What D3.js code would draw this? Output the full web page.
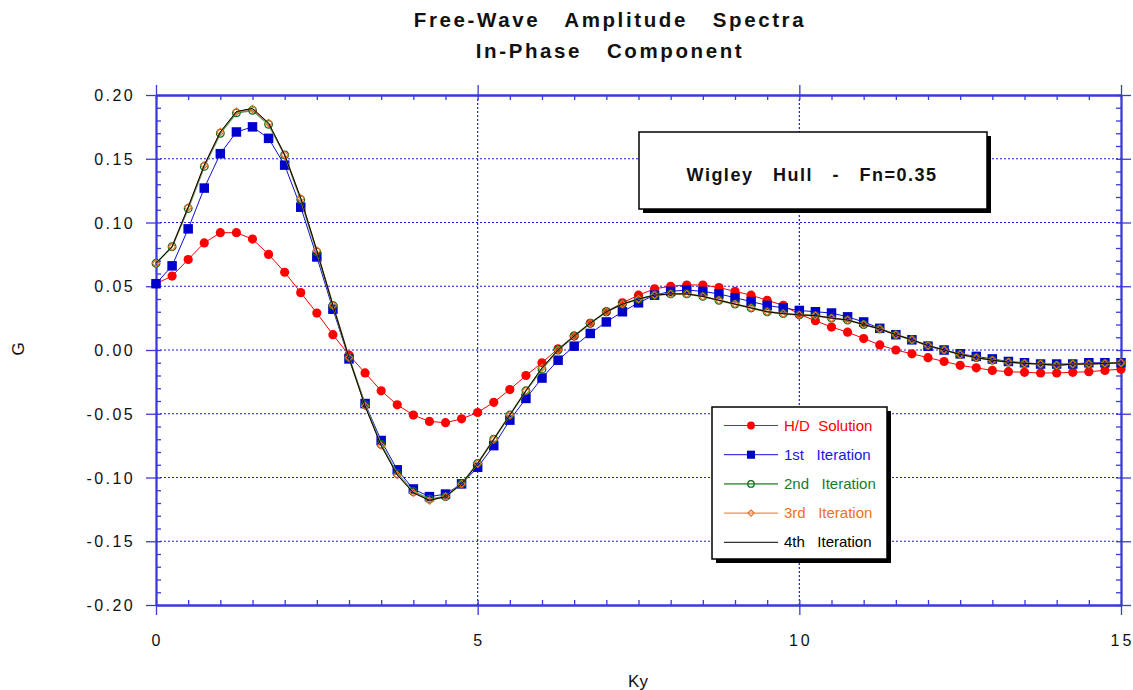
<!DOCTYPE html>
<html>
<head>
<meta charset="utf-8">
<script src="https://cdn.jsdelivr.net/npm/d3@7"></script>
<style>
  body { margin: 0; background: #fff; }
  text { font-family: "Liberation Sans", Arial, sans-serif; white-space: pre; }
</style>
</head>
<body>
<svg id="chart"></svg>
<script>
var w = 1133;
var h = 690;

// Ky runs 0..15 in steps of 0.25
var ky = d3.range(0, 61).map(function (i) { return i * 0.25; });

var hdSolution = [
  0.052, 0.058, 0.071, 0.084, 0.092, 0.092, 0.087, 0.075, 0.061, 0.045,
  0.029, 0.012, -0.004, -0.018, -0.032, -0.043, -0.051, -0.056, -0.057, -0.054,
  -0.049, -0.041, -0.031, -0.020, -0.010, 0.001, 0.011, 0.021, 0.030, 0.037,
  0.043, 0.048, 0.050, 0.051, 0.051, 0.049, 0.046, 0.043, 0.039, 0.035,
  0.028, 0.023, 0.018, 0.014, 0.009, 0.004, 0.000, -0.003, -0.006, -0.009,
  -0.012, -0.014, -0.016, -0.017, -0.0175, -0.018, -0.018, -0.0175, -0.017, -0.016,
  -0.015
];
var iter1 = [
  0.052, 0.066, 0.095, 0.127, 0.154, 0.171, 0.175, 0.166, 0.145, 0.112,
  0.073, 0.032, -0.007, -0.042, -0.071, -0.094, -0.109, -0.115, -0.113, -0.105,
  -0.092, -0.075, -0.055, -0.038, -0.022, -0.008, 0.003, 0.013, 0.022, 0.030,
  0.037, 0.043, 0.046, 0.047, 0.046, 0.044, 0.041, 0.038, 0.035, 0.033,
  0.031, 0.030, 0.029, 0.026, 0.022, 0.017, 0.012, 0.008, 0.003, 0.000,
  -0.003, -0.005, -0.007, -0.009, -0.010, -0.011, -0.011, -0.011, -0.010, -0.010,
  -0.010
];
var iter2 = [
  0.068, 0.081, 0.111, 0.144, 0.170, 0.186, 0.188, 0.177, 0.153, 0.118,
  0.077, 0.035, -0.006, -0.043, -0.074, -0.097, -0.111, -0.117, -0.115, -0.105,
  -0.089, -0.070, -0.051, -0.032, -0.015, 0.000, 0.011, 0.021, 0.030, 0.036,
  0.040, 0.043, 0.044, 0.044, 0.042, 0.039, 0.036, 0.033, 0.030, 0.0285,
  0.0275, 0.027, 0.025, 0.0235, 0.020, 0.0165, 0.012, 0.008, 0.0035, 0.000,
  -0.0035, -0.006, -0.008, -0.0095, -0.0105, -0.011, -0.012, -0.011, -0.011, -0.0105,
  -0.010
];
var iter3 = [
  0.068, 0.081, 0.112, 0.145, 0.171, 0.187, 0.189, 0.178, 0.153, 0.119,
  0.078, 0.035, -0.006, -0.044, -0.075, -0.098, -0.112, -0.118, -0.115, -0.105,
  -0.089, -0.070, -0.051, -0.032, -0.014, 0.000, 0.011, 0.021, 0.030, 0.036,
  0.040, 0.043, 0.044, 0.044, 0.042, 0.039, 0.036, 0.033, 0.030, 0.0285,
  0.0275, 0.027, 0.025, 0.0235, 0.020, 0.0165, 0.012, 0.008, 0.0035, 0.000,
  -0.0035, -0.006, -0.008, -0.0095, -0.0105, -0.011, -0.012, -0.011, -0.011, -0.0105,
  -0.010
];
var iter4 = [
  0.068, 0.081, 0.112, 0.145, 0.171, 0.187, 0.1895, 0.178, 0.153, 0.119,
  0.078, 0.035, -0.006, -0.044, -0.075, -0.098, -0.112, -0.118, -0.115, -0.105,
  -0.089, -0.070, -0.051, -0.032, -0.014, 0.000, 0.011, 0.021, 0.030, 0.036,
  0.040, 0.043, 0.044, 0.044, 0.042, 0.039, 0.036, 0.033, 0.030, 0.0285,
  0.0275, 0.027, 0.025, 0.0235, 0.020, 0.0165, 0.012, 0.008, 0.0035, 0.000,
  -0.0035, -0.006, -0.008, -0.0095, -0.0105, -0.011, -0.012, -0.011, -0.011, -0.0105,
  -0.010
];

var xTicks = [0, 5, 10, 15];
var yTicks = [-0.20, -0.15, -0.10, -0.05, 0.00, 0.05, 0.10, 0.15, 0.20];

var series = [
  { name: 'H/D  Solution', values: hdSolution, line: '#ff0000', lw: 1, text: '#ff0000', marker: 'dot' },
  { name: '1st   Iteration', values: iter1, line: '#1010d0', lw: 1, text: '#1818e0', marker: 'square' },
  { name: '2nd   Iteration', values: iter2, line: '#5f9f5f', lw: 1.8, text: '#1a7a2a', marker: 'ring' },
  { name: '3rd   Iteration', values: iter3, line: '#f07020', lw: 1, text: '#f07020', marker: 'diamond' },
  { name: '4th   Iteration', values: iter4, line: '#000000', lw: 1, text: '#000000', marker: 'none' }
];

var svg = d3.select('#chart').attr('width', w).attr('height', h);

var x = d3.scaleLinear().domain([0, 15]).range([156, 1121]);
var y = d3.scaleLinear().domain([-0.2, 0.2]).range([605, 95]);

var axisColor = '#3a3ad8';
var gridColor = '#1a1ad8';

// grid
svg.selectAll('.gx')
  .data([5, 10])
  .enter()
  .append('line')
  .attr('x1', function (d) { return x(d); })
  .attr('x2', function (d) { return x(d); })
  .attr('y1', y(0.2))
  .attr('y2', y(-0.2))
  .attr('stroke', gridColor)
  .attr('stroke-width', 1.2)
  .attr('stroke-dasharray', '2,2');

svg.selectAll('.gy')
  .data(yTicks.slice(1, -1))
  .enter()
  .append('line')
  .attr('x1', x(0))
  .attr('x2', x(15))
  .attr('y1', function (d) { return y(d); })
  .attr('y2', function (d) { return y(d); })
  .attr('stroke', gridColor)
  .attr('stroke-width', 1.2)
  .attr('stroke-dasharray', '2,2');

// frame axes: majors outward, minors inward
function styleAxis(g) {
  g.selectAll('path, line').attr('stroke', axisColor).attr('stroke-width', 1.3);
  g.select('.domain').attr('stroke-width', 1.8);
}

var minorX = d3.range(0, 15.001, 0.5);
var minorY = d3.range(-20, 21).map(function (v) { return v / 100; });

svg.append('g').attr('transform', 'translate(0,' + y(-0.2) + ')')
  .call(d3.axisBottom(x).tickValues(minorX).tickSize(-5).tickSizeOuter(0).tickFormat(''))
  .call(styleAxis);
svg.append('g').attr('transform', 'translate(0,' + y(-0.2) + ')')
  .call(d3.axisBottom(x).tickValues(xTicks).tickSize(10).tickSizeOuter(0).tickFormat(''))
  .call(styleAxis);
svg.append('g').attr('transform', 'translate(0,' + y(0.2) + ')')
  .call(d3.axisTop(x).tickValues(minorX).tickSize(-5).tickSizeOuter(0).tickFormat(''))
  .call(styleAxis);
svg.append('g').attr('transform', 'translate(0,' + y(0.2) + ')')
  .call(d3.axisTop(x).tickValues(xTicks).tickSize(10).tickSizeOuter(0).tickFormat(''))
  .call(styleAxis);
svg.append('g').attr('transform', 'translate(' + x(0) + ',0)')
  .call(d3.axisLeft(y).tickValues(minorY).tickSize(-5).tickSizeOuter(0).tickFormat(''))
  .call(styleAxis);
svg.append('g').attr('transform', 'translate(' + x(0) + ',0)')
  .call(d3.axisLeft(y).tickValues(yTicks).tickSize(10).tickSizeOuter(0).tickFormat(''))
  .call(styleAxis);
svg.append('g').attr('transform', 'translate(' + x(15) + ',0)')
  .call(d3.axisRight(y).tickValues(minorY).tickSize(-5).tickSizeOuter(0).tickFormat(''))
  .call(styleAxis);
svg.append('g').attr('transform', 'translate(' + x(15) + ',0)')
  .call(d3.axisRight(y).tickValues(yTicks).tickSize(10).tickSizeOuter(0).tickFormat(''))
  .call(styleAxis);

// tick labels
svg.selectAll('.xl')
  .data(xTicks)
  .enter()
  .append('text')
  .text(function (d) { return d; })
  .attr('x', function (d) { return x(d) + 1.5; })
  .attr('y', 646)
  .attr('text-anchor', 'middle')
  .attr('font-size', '16px')
  .attr('letter-spacing', '3px')
  .attr('fill', '#111');

svg.selectAll('.yl')
  .data(yTicks)
  .enter()
  .append('text')
  .text(function (d) { return d3.format('.2f')(Math.abs(d) < 1e-9 ? 0 : d).replace('\u2212', '-'); })
  .attr('x', 135)
  .attr('y', function (d) { return y(d) + 6; })
  .attr('text-anchor', 'end')
  .attr('font-size', '16px')
  .attr('letter-spacing', '2.4px')
  .attr('fill', '#111');

// axis titles
svg.append('text')
  .text('Ky')
  .attr('x', 638)
  .attr('y', 687)
  .attr('text-anchor', 'middle')
  .attr('font-size', '17px')
  .attr('fill', '#111');

svg.append('text')
  .text('G')
  .attr('transform', 'translate(24,349) rotate(-90)')
  .attr('text-anchor', 'middle')
  .attr('font-size', '17px')
  .attr('fill', '#111');

// title
svg.append('text')
  .text('Free-Wave   Amplitude   Spectra')
  .attr('x', 610)
  .attr('y', 27)
  .attr('text-anchor', 'middle')
  .attr('font-size', '20.5px')
  .attr('font-weight', 'bold')
  .attr('letter-spacing', '2.6px')
  .attr('fill', '#111');

svg.append('text')
  .text('In-Phase   Component')
  .attr('x', 610)
  .attr('y', 58)
  .attr('text-anchor', 'middle')
  .attr('font-size', '20.5px')
  .attr('font-weight', 'bold')
  .attr('letter-spacing', '2.6px')
  .attr('fill', '#111');

// markers
function drawMarker(g, type, color, cx, cy, small) {
  var s = small ? 0.85 : 1;
  if (type === 'dot') {
    g.append('circle').attr('cx', cx).attr('cy', cy).attr('r', 4.6 * s).attr('fill', color);
  } else if (type === 'square') {
    var a = 9.5 * s;
    g.append('rect').attr('x', cx - a / 2).attr('y', cy - a / 2).attr('width', a).attr('height', a)
      .attr('fill', '#0000cc');
  } else if (type === 'ring') {
    g.append('circle').attr('cx', cx).attr('cy', cy).attr('r', 3.8 * s)
      .attr('fill', 'none').attr('stroke', '#0a6a1a').attr('stroke-width', 1.3);
  } else if (type === 'diamond') {
    var r = 3.6 * s;
    g.append('path')
      .attr('d', 'M' + cx + ',' + (cy - r) + 'L' + (cx + r) + ',' + cy + 'L' + cx + ',' + (cy + r) + 'L' + (cx - r) + ',' + cy + 'Z')
      .attr('fill', 'none').attr('stroke', '#f07020').attr('stroke-width', 1.2);
  }
}

var line = d3.line()
  .x(function (d, i) { return x(ky[i]); })
  .y(function (d) { return y(d); });

var plot = svg.append('g');

series.forEach(function (s) {
  plot.append('path')
    .datum(s.values)
    .attr('d', line)
    .attr('fill', 'none')
    .attr('stroke', s.line)
    .attr('stroke-width', s.lw);
  var mg = plot.append('g');
  s.values.forEach(function (v, i) {
    drawMarker(mg, s.marker, s.line, x(ky[i]), y(v), false);
  });
});

// annotation box
var note = svg.append('g');
note.append('rect').attr('x', 643).attr('y', 136).attr('width', 348).attr('height', 77).attr('fill', '#000');
note.append('rect').attr('x', 639).attr('y', 132).attr('width', 348).attr('height', 77)
  .attr('fill', '#fff').attr('stroke', '#000').attr('stroke-width', 1.5);
note.append('text')
  .text('Wigley   Hull   -   Fn=0.35')
  .attr('x', 812)
  .attr('y', 181)
  .attr('text-anchor', 'middle')
  .attr('font-size', '18px')
  .attr('font-weight', 'bold')
  .attr('letter-spacing', '1.5px')
  .attr('fill', '#111');

// legend
var lg = svg.append('g');
lg.append('rect').attr('x', 716).attr('y', 411).attr('width', 175).attr('height', 152).attr('fill', '#000');
lg.append('rect').attr('x', 712).attr('y', 407).attr('width', 175).attr('height', 152)
  .attr('fill', '#fff').attr('stroke', '#000').attr('stroke-width', 1.5);

series.forEach(function (s, i) {
  var yy = 425.5 + i * 29.2;
  lg.append('line')
    .attr('x1', 724).attr('x2', 778)
    .attr('y1', yy).attr('y2', yy)
    .attr('stroke', s.line)
    .attr('stroke-width', s.lw);
  drawMarker(lg, s.marker, s.line, 751, yy, true);
  lg.append('text')
    .text(s.name)
    .attr('x', 784)
    .attr('y', yy + 5)
    .attr('font-size', '15px')
    .attr('fill', s.text);
});
</script>
</body>
</html>
